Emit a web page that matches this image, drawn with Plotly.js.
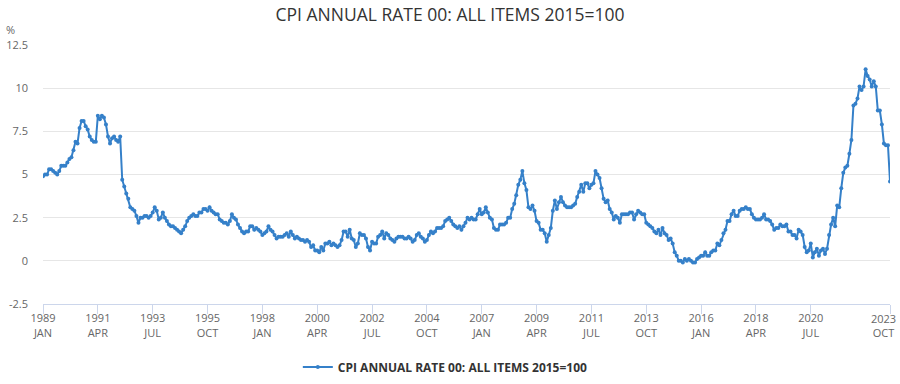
<!DOCTYPE html>
<html>
<head>
<meta charset="utf-8">
<script src="https://cdn.plot.ly/plotly-3.0.1.min.js"></script>
<style>
  html, body { margin: 0; padding: 0; background: #fff; }
  #chart { width: 900px; height: 384px; }
</style>
</head>
<body>
<div id="chart"></div>
<script>
// ---- Data (UK CPI annual rate, %, monthly Jan 1989 – Oct 2023) ----
const startYear = 1989;
const monthNames = ["JAN","FEB","MAR","APR","MAY","JUN","JUL","AUG","SEP","OCT","NOV","DEC"];
const seriesName = "CPI ANNUAL RATE 00: ALL ITEMS 2015=100";

const v1989 = [4.9, 5.0, 5.0, 5.3, 5.3, 5.2, 5.1, 5.0, 5.2, 5.5, 5.5, 5.5];
const v1990 = [5.7, 5.9, 6.0, 6.4, 6.9, 6.8, 7.7, 8.1, 8.1, 7.8, 7.6, 7.2];
const v1991 = [7.0, 6.9, 6.9, 8.4, 8.2, 8.4, 8.3, 7.9, 7.2, 6.8, 7.1, 7.2];
const v1992 = [7.0, 6.9, 7.2, 4.7, 4.3, 3.9, 3.6, 3.1, 3.0, 2.9, 2.6, 2.2];
const v1993 = [2.5, 2.5, 2.6, 2.6, 2.5, 2.6, 2.8, 3.1, 2.9, 2.4, 2.5, 2.8];
const v1994 = [2.5, 2.3, 2.1, 2.0, 2.0, 1.9, 1.8, 1.7, 1.6, 1.8, 2.0, 2.3];
const v1995 = [2.5, 2.6, 2.7, 2.6, 2.6, 2.8, 2.8, 3.0, 3.0, 2.9, 3.1, 2.9];
const v1996 = [2.8, 2.7, 2.7, 2.4, 2.3, 2.2, 2.2, 2.1, 2.3, 2.7, 2.5, 2.4];
const v1997 = [2.1, 1.9, 1.7, 1.6, 1.7, 1.7, 2.0, 2.0, 1.8, 1.9, 1.8, 1.7];
const v1998 = [1.5, 1.6, 1.7, 2.0, 1.8, 1.7, 1.5, 1.3, 1.4, 1.4, 1.4, 1.5];
const v1999 = [1.6, 1.4, 1.7, 1.5, 1.3, 1.4, 1.3, 1.2, 1.2, 1.1, 1.2, 1.1];
const v2000 = [0.8, 0.9, 0.6, 0.6, 0.5, 0.8, 0.6, 1.0, 1.0, 1.1, 0.9, 1.0];
const v2001 = [0.9, 0.8, 0.9, 1.2, 1.7, 1.7, 1.4, 1.8, 1.3, 1.2, 0.8, 1.0];
const v2002 = [1.6, 1.5, 1.5, 1.3, 0.8, 0.6, 1.1, 1.0, 1.0, 1.4, 1.5, 1.7];
const v2003 = [1.3, 1.6, 1.5, 1.3, 1.2, 1.1, 1.3, 1.4, 1.4, 1.4, 1.3, 1.3];
const v2004 = [1.4, 1.3, 1.1, 1.2, 1.5, 1.6, 1.4, 1.3, 1.1, 1.2, 1.5, 1.7];
const v2005 = [1.6, 1.7, 1.9, 1.9, 1.9, 2.0, 2.3, 2.4, 2.5, 2.3, 2.1, 2.0];
const v2006 = [1.9, 2.0, 1.8, 2.0, 2.2, 2.5, 2.4, 2.5, 2.4, 2.4, 2.7, 3.0];
const v2007 = [2.7, 2.8, 3.1, 2.8, 2.5, 2.4, 1.9, 1.8, 1.8, 2.1, 2.1, 2.1];
const v2008 = [2.2, 2.5, 2.5, 3.0, 3.3, 3.8, 4.4, 4.7, 5.2, 4.5, 4.1, 3.1];
const v2009 = [3.0, 3.2, 2.9, 2.3, 2.2, 1.8, 1.8, 1.6, 1.1, 1.5, 1.9, 2.9];
const v2010 = [3.5, 3.0, 3.4, 3.7, 3.4, 3.2, 3.1, 3.1, 3.1, 3.2, 3.3, 3.7];
const v2011 = [4.0, 4.4, 4.0, 4.5, 4.5, 4.2, 4.4, 4.5, 5.2, 5.0, 4.8, 4.2];
const v2012 = [3.6, 3.4, 3.5, 3.0, 2.8, 2.4, 2.6, 2.5, 2.2, 2.7, 2.7, 2.7];
const v2013 = [2.7, 2.8, 2.8, 2.4, 2.7, 2.9, 2.8, 2.7, 2.7, 2.2, 2.1, 2.0];
const v2014 = [1.9, 1.7, 1.6, 1.8, 1.5, 1.9, 1.6, 1.5, 1.2, 1.3, 1.0, 0.5];
const v2015 = [0.3, 0.0, 0.0, -0.1, 0.1, 0.0, 0.1, 0.0, -0.1, -0.1, 0.1, 0.2];
const v2016 = [0.3, 0.3, 0.5, 0.3, 0.3, 0.5, 0.6, 0.6, 1.0, 0.9, 1.2, 1.6];
const v2017 = [1.8, 2.3, 2.3, 2.7, 2.9, 2.6, 2.6, 2.9, 3.0, 3.0, 3.1, 3.0];
const v2018 = [3.0, 2.7, 2.5, 2.4, 2.4, 2.4, 2.5, 2.7, 2.4, 2.4, 2.3, 2.1];
const v2019 = [1.8, 1.9, 1.9, 2.1, 2.0, 2.0, 2.1, 1.7, 1.7, 1.5, 1.5, 1.3];
const v2020 = [1.8, 1.7, 1.5, 0.8, 0.5, 0.6, 1.0, 0.2, 0.5, 0.7, 0.3, 0.6];
const v2021 = [0.7, 0.4, 0.7, 1.5, 2.1, 2.5, 2.0, 3.2, 3.1, 4.2, 5.1, 5.4];
const v2022 = [5.5, 6.2, 7.0, 9.0, 9.1, 9.4, 10.1, 9.9, 10.1, 11.1, 10.7, 10.5];
const v2023 = [10.1, 10.4, 10.1, 8.7, 8.7, 7.9, 6.8, 6.7, 6.7, 4.6];

const yTickVals = [-2.5, 0, 2.5, 5, 7.5, 10, 12.5];
const yTickText = ["-2.5", "0", "2.5", "5", "7.5", "10", "12.5"];
const xTickStep = 27; // months between labelled ticks

// ---- Build series ----
const yearly = [v1989, v1990, v1991, v1992, v1993, v1994, v1995, v1996, v1997, v1998,
  v1999, v2000, v2001, v2002, v2003, v2004, v2005, v2006, v2007, v2008, v2009, v2010,
  v2011, v2012, v2013, v2014, v2015, v2016, v2017, v2018, v2019, v2020, v2021, v2022, v2023];
const categories = [];
const values = [];
yearly.forEach((arr, yi) => {
  arr.forEach((v, mi) => {
    categories.push((startYear + yi) + " " + monthNames[mi]);
    values.push(v);
  });
});
const tickIdx = [];
for (let i = 0; i + xTickStep < categories.length - 1; i += xTickStep) tickIdx.push(i);
tickIdx.push(categories.length - 1);
const lastCat = categories[categories.length - 1];
const tickVals = tickIdx.map(i => categories[i]);
// last label is drawn as an annotation (right-aligned so it stays inside the picture)
const tickText = tickIdx.map((i, k) =>
  k === tickIdx.length - 1 ? "" : categories[i].replace(" ", "<br>"));

const FONT = "'Open Sans', 'Noto Sans', sans-serif";
const lineColor = "#3580c9";

const trace = {
  type: "scatter",
  mode: "lines+markers",
  name: seriesName,
  x: categories,
  y: values,
  line: { color: lineColor, width: 2 },
  marker: { color: lineColor, size: 4 },
  hoverinfo: "x+y"
};

const layout = {
  width: 900,
  height: 384,
  margin: { l: 43, r: 10, t: 45, b: 80, autoexpand: false },
  paper_bgcolor: "#ffffff",
  plot_bgcolor: "#ffffff",
  font: { family: FONT, color: "#666666", size: 11 },
  title: {
    text: "CPI ANNUAL RATE 00: ALL ITEMS 2015=100",
    font: { family: FONT, size: 17.5, color: "#333333" },
    x: 0.5, xanchor: "center",
    y: 0.962, yanchor: "middle"
  },
  xaxis: {
    type: "category",
    range: [0, categories.length - 1],
    tickmode: "array",
    tickvals: tickVals,
    ticktext: tickText,
    ticks: "outside",
    ticklen: 9,
    tickcolor: "#ccd6eb",
    tickwidth: 1,
    showline: true,
    linecolor: "#ccd6eb",
    linewidth: 1,
    showgrid: false,
    zeroline: false,
    automargin: false,
    ticklabelstandoff: -5,
    tickfont: { family: FONT, size: 11, color: "#666666" },
    fixedrange: true
  },
  yaxis: {
    range: [-2.5, 12.5],
    tickmode: "array",
    tickvals: yTickVals,
    ticktext: yTickText,
    showgrid: true,
    gridcolor: "#e6e6e6",
    gridwidth: 1,
    zeroline: false,
    showline: false,
    ticks: "",
    ticklabelstandoff: 14,
    automargin: false,
    tickfont: { family: FONT, size: 11, color: "#666666" },
    fixedrange: true
  },
  showlegend: true,
  legend: {
    orientation: "h",
    x: 0.475, xanchor: "center",
    y: -0.243, yanchor: "middle",
    font: { family: FONT, size: 12, color: "#333333", weight: "bold" },
    itemwidth: 30
  },
  annotations: [{
    text: "%",
    xref: "paper", yref: "paper",
    x: -0.038, xanchor: "center",
    y: 1.058, yanchor: "middle",
    showarrow: false,
    font: { family: FONT, size: 11, color: "#666666" }
  }, {
    text: lastCat.replace(" ", "<br>"),
    xref: "x", yref: "paper",
    x: lastCat, xanchor: "right", xshift: 8,
    y: 0, yanchor: "top", yshift: -5,
    align: "center",
    showarrow: false,
    font: { family: FONT, size: 11, color: "#666666" }
  }]
};

Plotly.newPlot("chart", [trace], layout, { displayModeBar: false, staticPlot: false });
</script>
</body>
</html>
